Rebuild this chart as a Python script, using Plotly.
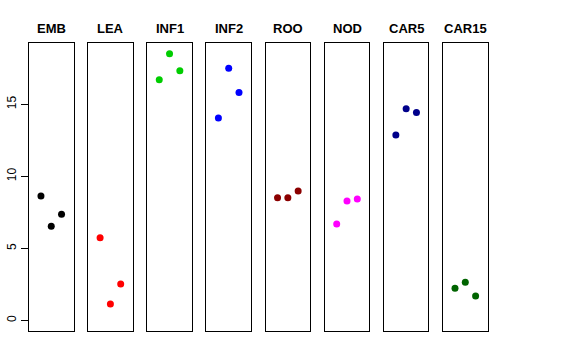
import plotly.graph_objects as go

categories = ["EMB", "LEA", "INF1", "INF2", "ROO", "NOD", "CAR5", "CAR15"]
colors = ["#000000", "#FF0000", "#00CD00", "#0000FF", "#8B0000", "#FF00FF", "#00008B", "#006400"]
x_pos = [1, 2, 3]
values = {
    "EMB": [8.63, 6.53, 7.36],
    "LEA": [5.74, 1.13, 2.52],
    "INF1": [16.71, 18.52, 17.33],
    "INF2": [14.05, 17.50, 15.83],
    "ROO": [8.51, 8.51, 8.98],
    "NOD": [6.69, 8.28, 8.42],
    "CAR5": [12.87, 14.69, 14.44],
    "CAR15": [2.22, 2.64, 1.69],
}
y_ticks = [0, 5, 10, 15]

W, H = 576, 360
left0, pw, step = 29.0, 44.5, 59.15
top_px, bot_px = 43.0, 331.0
title_px = 28.5
ymax = 18.52
yr = [-0.04 * ymax, ymax * 1.04]
xr = [-0.16, 4.16]

fig = go.Figure()
layout = dict(
    width=W, height=H, margin=dict(l=0, r=0, t=0, b=0),
    paper_bgcolor="white", plot_bgcolor="white", showlegend=False,
    font=dict(family="Liberation Sans, Arial, sans-serif", color="black"),
)
annotations = []
for i, cat in enumerate(categories):
    xa = "x" if i == 0 else f"x{i+1}"
    ya = "y" if i == 0 else f"y{i+1}"
    x0 = left0 + i * step
    x1 = x0 + pw
    fig.add_trace(go.Scatter(
        x=x_pos, y=values[cat], mode="markers", xaxis=xa, yaxis=ya,
        marker=dict(color=colors[i], size=7, line=dict(width=0)),
        hoverinfo="skip",
    ))
    xkey = "xaxis" if i == 0 else f"xaxis{i+1}"
    ykey = "yaxis" if i == 0 else f"yaxis{i+1}"
    layout[xkey] = dict(
        domain=[x0 / W, x1 / W], range=xr, anchor=ya,
        showgrid=False, zeroline=False, showticklabels=False, ticks="",
        showline=True, mirror=True, linecolor="black", linewidth=1,
    )
    ydict = dict(
        domain=[1 - bot_px / H, 1 - top_px / H], range=yr, anchor=xa,
        showgrid=False, zeroline=False,
        showline=True, mirror=True, linecolor="black", linewidth=1,
    )
    if i == 0:
        ydict.update(tickvals=y_ticks, ticktext=[str(t) for t in y_ticks],
                     ticks="outside", ticklen=7, tickcolor="black", tickwidth=1,
                     tickangle=-90, tickfont=dict(size=12, color="black"),
                     showticklabels=True)
    else:
        ydict.update(showticklabels=False, ticks="")
    layout[ykey] = ydict
    annotations.append(dict(
        x=(x0 + x1) / 2 / W, y=1 - title_px / H, xref="paper", yref="paper",
        text=f"<b>{cat}</b>", showarrow=False, xanchor="center", yanchor="middle",
        font=dict(size=13, color="black", family="Liberation Sans, Arial, sans-serif"),
    ))
layout["annotations"] = annotations
fig.update_layout(**layout)
fig.write_html(
    "out.html",
    config={"displayModeBar": False},
    post_script="document.body.style.margin='0';document.body.style.overflow='hidden';",
)
